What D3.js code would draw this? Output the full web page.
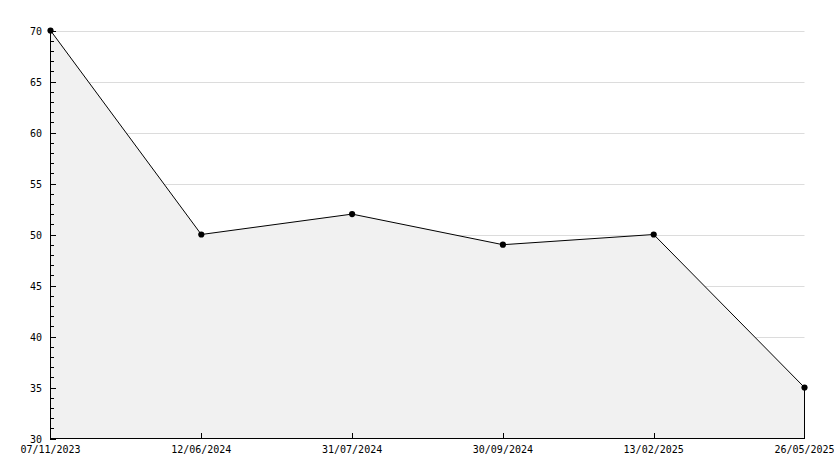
<!DOCTYPE html>
<html><head><meta charset="utf-8">
<script src="https://cdn.jsdelivr.net/npm/d3@7"></script>
<style>body{margin:0;background:#fff}svg{display:block}</style>
</head><body>
<script>
const categories = ["07/11/2023","12/06/2024","31/07/2024","30/09/2024","13/02/2025","26/05/2025"];
const values = [70, 50, 52, 49, 50, 35];
const yTicks = [30,35,40,45,50,55,60,65,70];

const W = 834, H = 468;
const svg = d3.select("body").append("svg").attr("width", W).attr("height", H);
const x = d3.scalePoint().domain(categories).range([50.5, 804.5]);
const y = d3.scaleLinear().domain([30, 70]).range([438.5, 30.5]);
const font = "'DejaVu Sans Mono', monospace";

// gridlines
svg.append("g").selectAll("line").data(yTicks.slice(1)).join("line")
  .attr("x1", 50).attr("x2", 804.5).attr("y1", d => Math.round(y(d)) + 0.5).attr("y2", d => Math.round(y(d)) + 0.5)
  .attr("stroke", "#dcdcdc");

const pts = categories.map((c, i) => [x(c), y(values[i])]);
// area
svg.append("path")
  .attr("d", d3.area().x(d => d[0]).y0(y(30)).y1(d => d[1])(pts))
  .attr("fill", "#f1f1f1").attr("stroke", "none");
// right edge
svg.append("line").attr("x1", x(categories[5])).attr("x2", x(categories[5]))
  .attr("y1", y(values[5])).attr("y2", y(30)).attr("stroke", "#000");
// line
svg.append("path").attr("d", d3.line()(pts)).attr("fill", "none").attr("stroke", "#000").attr("stroke-width", 1);
// markers
svg.append("g").selectAll("path").data(pts).join("path")
  .attr("transform", d => `translate(${d[0]},${d[1]})`)
  .attr("d", d3.symbol(d3.symbolCircle, 30)).attr("fill", "#000");

// y axis
const yAxis = svg.append("g");
yAxis.append("line").attr("x1", 50.5).attr("x2", 50.5).attr("y1", 30).attr("y2", 439).attr("stroke", "#000");
const minor = d3.range(30, 71, 1).filter(v => v % 5 !== 0);
yAxis.selectAll("line.mn").data(minor).join("line").attr("class","mn")
  .attr("x1", 50).attr("x2", 54).attr("y1", d => Math.round(y(d)) + 0.5).attr("y2", d => Math.round(y(d)) + 0.5).attr("stroke", "#000");
yAxis.selectAll("line.mj").data(yTicks).join("line").attr("class","mj")
  .attr("x1", 50).attr("x2", 56).attr("y1", d => Math.round(y(d)) + 0.5).attr("y2", d => Math.round(y(d)) + 0.5).attr("stroke", "#000");
yAxis.selectAll("text").data(yTicks).join("text")
  .attr("x", 42).attr("y", d => y(d) + 4).attr("text-anchor", "end")
  .attr("font-family", font).attr("font-size", 10).attr("fill", "#000").text(d => d);

// x axis
const xAxis = svg.append("g");
xAxis.append("line").attr("x1", 50).attr("x2", 805).attr("y1", 438.5).attr("y2", 438.5).attr("stroke", "#000");
xAxis.selectAll("line.t").data(categories.slice(1, 5)).join("line").attr("class","t")
  .attr("x1", d => Math.round(x(d)) + 0.5).attr("x2", d => Math.round(x(d)) + 0.5).attr("y1", 433).attr("y2", 438).attr("stroke", "#000");
xAxis.selectAll("text").data(categories).join("text")
  .attr("x", d => x(d)).attr("y", 453).attr("text-anchor", "middle")
  .attr("font-family", font).attr("font-size", 10).attr("fill", "#000").text(d => d);
</script>
</body></html>
